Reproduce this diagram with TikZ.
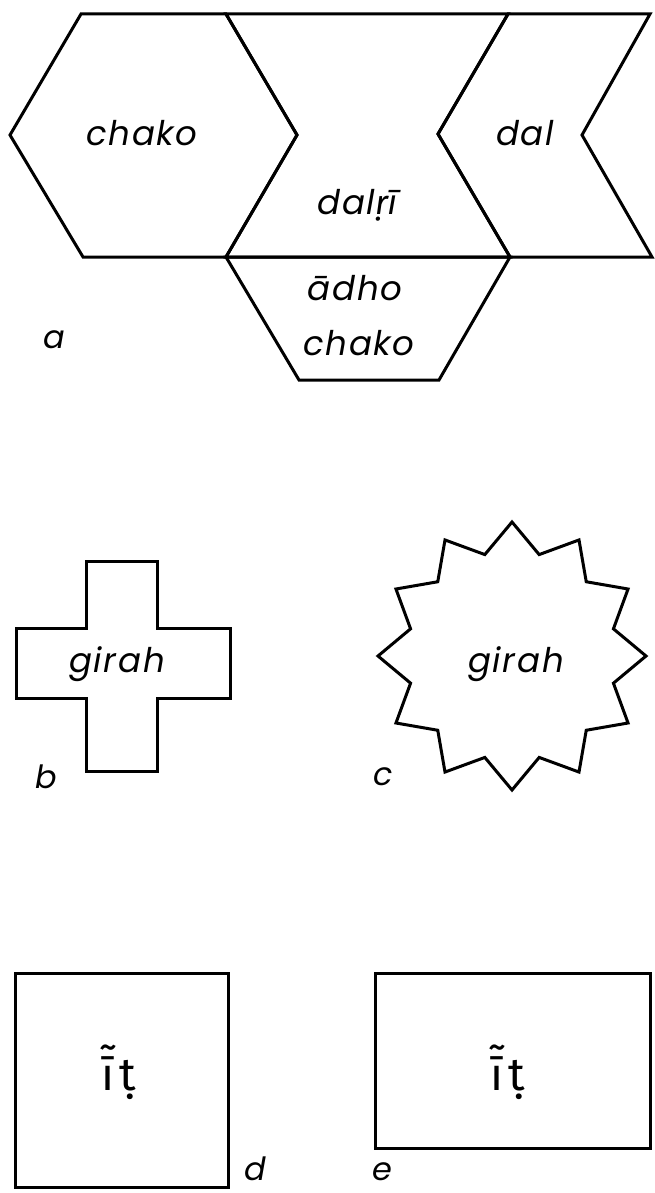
\documentclass[tikz,border=0pt]{standalone}
\usepackage{fontspec}
\setmainfont{Poppins}[LetterSpace=5]
\newfontfamily\firafont{Fira Sans}
\begin{document}
\begin{tikzpicture}[x=1pt,y=-1pt,
  outline/.style={draw=black, line width=3pt, line join=miter},
  word/.style={font=\fontsize{34}{38}\selectfont\itshape, inner sep=0pt},
  tag/.style={font=\fontsize{32}{36}\selectfont\itshape, inner sep=0pt},
  glyph/.style={font=\firafont\fontsize{46}{56}\selectfont, inner sep=0pt}]
\useasboundingbox (0,0) rectangle (655,1193);
% --- a ---
\draw[outline] (10,135) -- (81,14) -- (226,14) -- (297,135) -- (226,257) -- (83,257) -- cycle;
\draw[outline] (226,14) -- (508,14) -- (438,134) -- (510,257) -- (226,257) -- (297,135) -- cycle;
\draw[outline] (508,14) -- (650,14) -- (582,135) -- (652,257) -- (510,257) -- (438,134) -- cycle;
\draw[outline] (226,257) -- (510,257) -- (439,380) -- (299,380) -- cycle;
\node[word] (chako) at (142,133) {chako};
\node[word] (dal) at (525,133) {dal};
\node[word] (dalri) at (357,205) {dal{\firafont\itshape ṛ}ī};
\node[word] (adho) at (355,288) {ādho};
\node[word] (chako2) at (359,343) {chako};
\node[tag] (la) at (54,340) {a};
% --- b ---
\draw[outline] (86,561) -- (157,561) -- (157,628) -- (230,628) -- (230,698) -- (157,698) -- (157,771) -- (86,771) -- (86,698) -- (16,698) -- (16,628) -- (86,628) -- cycle;
\node[word] (girahb) at (117,664) {girah};
\node[tag] (lb) at (46,777) {b};
% --- c ---
\begin{scope}[shift={(512,656)}]
\draw[outline] (0:134) \foreach \k in {0,...,10}{ -- ({\k*30+15}:105) -- ({\k*30+30}:134)} -- (345:105) -- cycle;
\end{scope}
\node[word] (girahc) at (516,664) {girah};
\node[tag] (lc) at (383,777) {c};
% --- d, e ---
\draw[outline] (15,973) rectangle (228,1187);
\draw[outline] (375,973) rectangle (650,1148);
\node[glyph] (itd) at (119,1072) {ī̃\hspace{0.1em}ṭ};
\node[glyph] (ite) at (508,1072) {ī̃\hspace{0.1em}ṭ};
\node[tag] (ld) at (255,1169) {d};
\node[tag] (le) at (382,1172) {e};
\end{tikzpicture}
\end{document}
